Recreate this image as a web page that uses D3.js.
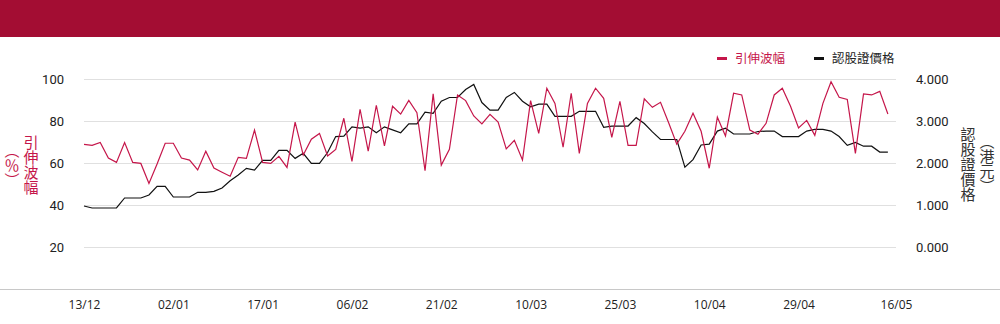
<!DOCTYPE html>
<html><head><meta charset="utf-8">
<script src="https://cdn.jsdelivr.net/npm/d3@7"></script>
<style>
html,body{margin:0;padding:0;background:#fff;}
svg{display:block;}
</style></head>
<body>
<svg id="chart" width="1000" height="324"></svg>
<script>
const dates = ["13/12","14/12","17/12","18/12","19/12","20/12","21/12","24/12","27/12","28/12","31/12",
"02/01","03/01","04/01","07/01","08/01","09/01","10/01","11/01","14/01","15/01","16/01",
"17/01","18/01","21/01","22/01","23/01","24/01","25/01","28/01","29/01","30/01","31/01",
"06/02","07/02","08/02","11/02","12/02","13/02","14/02","15/02","18/02","19/02","20/02",
"21/02","22/02","25/02","26/02","27/02","28/02","01/03","04/03","05/03","06/03","07/03",
"10/03","11/03","12/03","13/03","14/03","15/03","18/03","19/03","20/03","21/03","22/03",
"25/03","26/03","27/03","28/03","29/03","01/04","02/04","03/04","04/04","08/04","09/04",
"10/04","11/04","12/04","15/04","16/04","17/04","18/04","23/04","24/04","25/04","26/04",
"29/04","30/04","02/05","03/05","06/05","07/05","08/05","09/05","10/05","13/05","14/05","15/05","16/05"];
const tickLabels = ["13/12","02/01","17/01","06/02","21/02","10/03","25/03","10/04","29/04","16/05"];
const volatility = [68.9,68.4,69.8,62.4,60.3,69.7,60.3,59.8,50.3,59.5,69.4,69.4,62.4,61.4,56.7,65.6,57.6,55.6,53.7,62.7,
62.2,75.7,60.3,59.8,63.2,57.9,79.5,63.8,71.3,74.1,63.3,66.5,81.3,60.8,85.6,65.7,87.5,68.1,87.0,83.3,
89.8,84.0,56.3,92.9,59.0,66.5,92.4,89.7,82.4,78.6,83.2,79.5,66.7,70.8,61.4,89.7,74.1,95.6,88.4,67.5,
93.2,64.6,88.4,95.6,90.8,72.2,89.4,68.4,68.4,90.6,86.5,88.9,79.2,69.0,75.1,83.7,75.1,57.5,81.8,72.9,
93.2,92.4,75.7,73.7,78.9,92.4,95.6,87.1,76.7,80.3,73.2,88.4,98.7,91.3,90.3,64.6,92.9,92.4,94.1,83.3];
const price = [0.976,0.929,0.929,0.929,0.929,1.167,1.167,1.167,1.238,1.444,1.444,1.190,1.190,1.190,1.302,1.302,1.325,1.405,1.579,1.714,
1.873,1.833,2.063,2.063,2.302,2.302,2.110,2.230,1.990,1.990,2.250,2.630,2.640,2.860,2.830,2.860,2.720,2.860,2.790,2.720,
2.930,2.930,3.210,3.180,3.470,3.560,3.560,3.750,3.870,3.440,3.260,3.260,3.560,3.680,3.470,3.340,3.400,3.400,3.110,3.110,
3.110,3.230,3.230,3.230,2.850,2.880,2.880,2.880,3.080,2.940,2.740,2.560,2.560,2.560,1.900,2.080,2.430,2.450,2.760,2.830,
2.690,2.690,2.690,2.750,2.760,2.760,2.630,2.630,2.630,2.760,2.800,2.800,2.760,2.630,2.420,2.490,2.400,2.400,2.260,2.260];
const leftTicks = [20,40,60,80,100];
const rightTicks = [0,1,2,3,4];

const svg = d3.select("#chart");
const W = 1000;
const plotTop = 79, plotBottom = 289;
const x = d3.scalePoint().domain(dates).range([84, 896]);
const yL = d3.scaleLinear().domain([0,100]).range([plotBottom, plotTop]);
const yR = d3.scaleLinear().domain([-1,4]).range([plotBottom, plotTop]);
const RED = "#c5164a", BANNER = "#a30d33";

svg.append("rect").attr("x",0).attr("y",0).attr("width",W).attr("height",37).attr("fill",BANNER);

// grid
svg.append("g").selectAll("line").data(leftTicks).join("line")
  .attr("x1",84).attr("x2",896)
  .attr("y1",d=>Math.round(yL(d))+0.5).attr("y2",d=>Math.round(yL(d))+0.5)
  .attr("stroke","#e0e0e0").attr("stroke-width",1);
svg.append("line").attr("x1",0).attr("x2",W).attr("y1",plotBottom+0.5).attr("y2",plotBottom+0.5)
  .attr("stroke","#c8c8c8").attr("stroke-width",1);

// left axis
const gl = svg.append("g").attr("transform","translate(64,0)")
  .call(d3.axisLeft(yL).tickValues(leftTicks).tickSize(0).tickPadding(0));
gl.select(".domain").remove();
gl.selectAll("text").attr("font-family","Roboto, sans-serif").attr("font-size",13).attr("fill","#222");

// right axis
const gr = svg.append("g").attr("transform","translate(916,0)")
  .call(d3.axisRight(yR).tickValues(rightTicks).tickFormat(d3.format(".3f")).tickSize(0).tickPadding(0));
gr.select(".domain").remove();
gr.selectAll("text").attr("font-family","Roboto, sans-serif").attr("font-size",13).attr("fill","#222");

// bottom axis
const gx = svg.append("g").attr("transform",`translate(0,${plotBottom})`)
  .call(d3.axisBottom(x).tickValues(tickLabels).tickSize(0).tickPadding(11));
gx.select(".domain").remove();
gx.selectAll("text").attr("font-family","'Open Sans', sans-serif").attr("font-size",12).attr("fill","#222");

// lines
const lineL = d3.line().x((d,i)=>x(dates[i])).y(d=>yL(d));
const lineR = d3.line().x((d,i)=>x(dates[i])).y(d=>yR(d));
svg.append("path").datum(price).attr("d",lineR).attr("fill","none").attr("stroke","#111").attr("stroke-width",1.2);
svg.append("path").datum(volatility).attr("d",lineL).attr("fill","none").attr("stroke",RED).attr("stroke-width",1.2);

// axis titles (vertical)
const cjk = "'Noto Sans CJK TC', 'Noto Sans CJK SC', sans-serif";
function vtext(xp, yc, txt, color){
  svg.append("text").attr("x",xp).attr("y",yc)
    .attr("writing-mode","vertical-rl").attr("text-anchor","middle")
    .attr("font-family",cjk).attr("font-size",15).attr("fill",color).text(txt);
}
vtext(31,165,"引伸波幅",RED);
vtext(12,165,"（％）",RED);
vtext(968,164,"認股證價格","#333");
vtext(987,164,"（港元）","#333");

// legend
const legend = [{t:"引伸波幅",c:RED,x:717},{t:"認股證價格",c:"#111",x:814}];
const lg = svg.append("g");
lg.selectAll("rect").data(legend).join("rect")
  .attr("x",d=>d.x).attr("y",57).attr("width",10).attr("height",3).attr("fill",d=>d.c);
lg.selectAll("text").data(legend).join("text")
  .attr("x",d=>d.x+18).attr("y",62.5).attr("font-family",cjk).attr("font-size",12.5)
  .attr("fill",d=>d.c==="#111"?"#222":d.c).text(d=>d.t);
</script>
</body></html>
